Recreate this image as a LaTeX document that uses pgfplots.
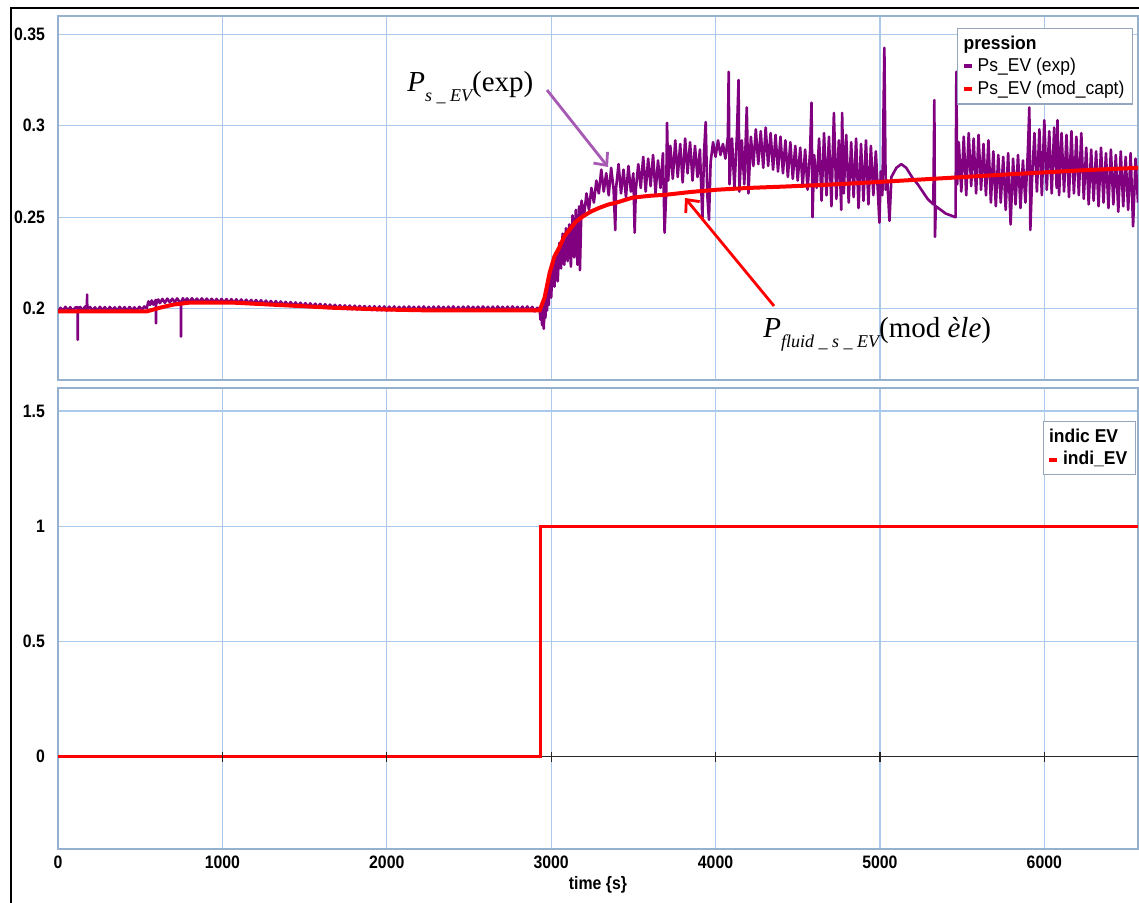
\documentclass[border=0pt]{standalone}
\usepackage{fontspec}
\setmainfont{Liberation Sans}
\newfontfamily\narrowfont[FakeStretch=0.88]{Liberation Sans}
\newfontfamily\legfont[FakeStretch=0.94]{Liberation Sans}
\newfontfamily\timesfont{Liberation Serif}
\usepackage{pgfplots}
\pgfplotsset{compat=1.18}
\usetikzlibrary{arrows.meta}
\definecolor{gridblue}{RGB}{172,201,236}
\definecolor{axisblue}{RGB}{150,176,208}
\definecolor{legborder}{RGB}{150,165,190}
\definecolor{mpurple}{RGB}{128,0,128}
\definecolor{arrowpurple}{RGB}{166,90,180}
\definecolor{mred}{RGB}{255,0,0}
\pgfplotsset{
 common/.style={
  scale only axis, width=540pt, enlargelimits=false,
  xmin=0, xmax=6570,
  xtick={0,1000,2000,3000,4000,5000,6000},
  grid=major, major grid style={gridblue, line width=0.6pt},
  axis line style={axisblue, line width=0.8pt},
  major tick length=0pt,
  ticklabel style={font=\narrowfont\bfseries\fontsize{9}{10}\selectfont},
  yticklabel style={xshift=-3pt},
  /pgf/number format/assume math mode=true,
  /pgf/number format/fixed,
  /pgf/number format/1000 sep={},
  legend style={draw=legborder, line width=0.6pt, fill=white,
    font=\legfont\fontsize{9.3}{11}\selectfont, inner xsep=2pt, inner ysep=1.5pt,
    row sep=-1pt, cells={anchor=west}},
  legend image code/.code={\draw[#1, line width=2pt] (0pt,0pt) -- (4pt,0pt);},
 }
}
\begin{document}
\begin{tikzpicture}
\useasboundingbox (0,0) rectangle (569.5pt,451.5pt);
\fill[white] (0,0) rectangle (569.5pt,451.5pt);
\draw[black, line width=0.9pt] (5.5pt,-1pt) -- (5.5pt,447.5pt) -- (570pt,447.5pt);
% ---------- top axis
\begin{axis}[common, at={(29pt,261.5pt)}, anchor=south west, height=182pt,
  ymin=0.161, ymax=0.36, ytick={0.2,0.25,0.3,0.35}, xticklabels={},
  legend style={at={(0.9954,0.967)}, anchor=north east}]
\addlegendimage{empty legend}
\addlegendentry{\hspace*{-7pt}\bfseries pression}
\addplot[mpurple, line width=1.3pt, line join=round] table {
0 0.198
15 0.2005
30 0.1988
45 0.2010
60 0.1990
75 0.2008
90 0.1986
105 0.2006
119 0.2008
120 0.183
121 0.199
135 0.2009
150 0.1990
165 0.2012
176 0.1988
177 0.2077
178 0.1995
195 0.2009
210 0.1990
225 0.2007
240 0.1988
255 0.2010
270 0.1991
285 0.2008
300 0.1989
315 0.2009
330 0.1991
345 0.2007
360 0.1988
375 0.2010
390 0.1990
405 0.2008
420 0.1989
435 0.2009
450 0.1991
465 0.2007
480 0.1989
495 0.2010
510 0.1993
525 0.2012
540 0.2002
550 0.2040
560 0.2020
570 0.2045
580 0.2022
595 0.2048
596 0.192
597 0.2025
610 0.2050
620 0.2030
635 0.2053
650 0.2032
665 0.2055
680 0.2034
695 0.2054
710 0.2035
725 0.2056
740 0.2036
747 0.2038
748 0.1847
749 0.2036
760 0.2057
770 0.2037
785 0.2056
800 0.2036
815 0.2057
830 0.2037
845 0.2055
860 0.2036
875 0.2056
890 0.2035
905 0.2055
920 0.2034
935 0.2054
950 0.2034
965 0.2053
980 0.2033
995 0.2053
1010 0.2033
1025 0.2052
1040 0.2032
1055 0.2052
1070 0.2031
1085 0.2051
1100 0.2030
1115 0.2050
1130 0.2029
1145 0.2049
1160 0.2028
1175 0.2048
1190 0.2027
1205 0.2047
1220 0.2026
1235 0.2046
1250 0.2024
1265 0.2044
1280 0.2022
1295 0.2042
1310 0.2021
1325 0.2041
1340 0.2019
1355 0.2039
1370 0.2018
1385 0.2037
1400 0.2016
1415 0.2036
1430 0.2015
1445 0.2034
1460 0.2013
1475 0.2032
1490 0.2011
1505 0.2030
1520 0.2009
1535 0.2029
1550 0.2008
1565 0.2027
1580 0.2006
1595 0.2026
1610 0.2005
1625 0.2024
1640 0.2003
1655 0.2022
1670 0.2002
1685 0.2021
1700 0.2000
1715 0.2019
1730 0.1999
1745 0.2018
1760 0.1997
1775 0.2017
1790 0.1996
1805 0.2016
1820 0.1995
1835 0.2015
1850 0.1994
1865 0.2014
1880 0.1993
1895 0.2013
1910 0.1992
1925 0.2013
1940 0.1991
1955 0.2012
1970 0.1991
1985 0.2012
2000 0.1990
2015 0.2011
2030 0.1991
2045 0.2012
2060 0.1990
2075 0.2010
2090 0.1991
2105 0.2011
2120 0.1990
2135 0.2012
2150 0.1991
2165 0.2010
2180 0.1989
2195 0.2011
2210 0.1990
2225 0.2012
2240 0.1991
2255 0.2010
2270 0.1990
2285 0.2011
2300 0.1989
2315 0.2012
2330 0.1991
2345 0.2010
2360 0.1990
2375 0.2011
2390 0.1991
2405 0.2012
2420 0.1990
2435 0.2010
2450 0.1989
2465 0.2011
2480 0.1990
2495 0.2012
2510 0.1991
2525 0.2010
2540 0.1990
2555 0.2011
2570 0.1989
2585 0.2012
2600 0.1991
2615 0.2010
2630 0.1990
2645 0.2011
2660 0.1989
2675 0.2012
2690 0.1991
2705 0.2010
2720 0.1990
2735 0.2011
2750 0.1989
2765 0.2012
2780 0.1991
2795 0.2010
2810 0.1990
2825 0.2011
2840 0.1989
2855 0.2012
2870 0.1990
2885 0.2010
2900 0.1985
2915 0.2005
2930 0.200
2935 0.194
2940 0.199
2945 0.191
2950 0.201
2955 0.189
2960 0.204
2965 0.195
2970 0.209
2975 0.199
2980 0.214
2985 0.202
2990 0.219
3000 0.206
3010 0.226
3020 0.212
3030 0.231
3040 0.215
3050 0.236
3060 0.222
3070 0.241
3080 0.224
3090 0.244
3100 0.226
3110 0.246
3120 0.223
3130 0.251
3140 0.228
3150 0.254
3160 0.224
3170 0.256
3175 0.221
3185 0.259
3200 0.251
3215 0.263
3230 0.254
3245 0.266
3260 0.258
3275 0.270
3290 0.263
3305 0.276
3320 0.264
3335 0.274
3350 0.262
3365 0.277
3380 0.265
3390 0.243
3395 0.266
3410 0.279
3425 0.263
3440 0.276
3455 0.261
3470 0.278
3485 0.264
3500 0.274
3508 0.2415
3515 0.265
3530 0.279
3545 0.266
3560 0.283
3575 0.264
3590 0.282
3605 0.267
3620 0.284
3635 0.263
3650 0.281
3665 0.266
3680 0.285
3690 0.2415
3700 0.264
3705 0.3016
3712 0.270
3725 0.289
3740 0.271
3755 0.292
3770 0.272
3785 0.290
3800 0.269
3815 0.293
3830 0.274
3845 0.291
3860 0.270
3875 0.289
3890 0.272
3905 0.287
3920 0.2486
3930 0.285
3940 0.302
3950 0.262
3960 0.2486
3970 0.280
3985 0.291
4000 0.283
4015 0.292
4030 0.284
4045 0.290
4060 0.282
4075 0.294
4080 0.3295
4085 0.268
4100 0.293
4115 0.266
4130 0.295
4140 0.325
4145 0.264
4160 0.292
4175 0.268
4190 0.310
4200 0.263
4215 0.294
4230 0.278
4245 0.298
4260 0.279
4275 0.297
4290 0.277
4305 0.299
4320 0.278
4335 0.296
4350 0.276
4365 0.295
4380 0.275
4395 0.294
4410 0.274
4425 0.292
4440 0.272
4455 0.291
4470 0.271
4485 0.289
4500 0.270
4515 0.288
4530 0.267
4545 0.287
4560 0.265
4575 0.286
4584 0.3126
4590 0.250
4600 0.284
4615 0.266
4630 0.293
4645 0.259
4660 0.296
4675 0.262
4690 0.294
4705 0.256
4720 0.307
4735 0.260
4750 0.292
4765 0.254
4770 0.307
4780 0.263
4795 0.295
4810 0.258
4825 0.291
4840 0.261
4855 0.293
4870 0.255
4885 0.290
4900 0.259
4915 0.292
4930 0.257
4945 0.289
4960 0.262
4975 0.286
4997 0.247
5005 0.275
5015 0.262
5027 0.3426
5035 0.265
5045 0.270
5058 0.248
5070 0.272
5100 0.277
5130 0.279
5160 0.277
5198 0.2715
5230 0.268
5260 0.264
5290 0.260
5325 0.257
5331 0.314
5335 0.2393
5340 0.256
5370 0.254
5400 0.252
5430 0.251
5460 0.250
5465 0.3295
5470 0.268
5480 0.291
5495 0.264
5510 0.294
5525 0.262
5540 0.296
5555 0.267
5570 0.293
5585 0.263
5600 0.295
5615 0.265
5630 0.290
5645 0.262
5660 0.292
5675 0.258
5690 0.286
5705 0.256
5720 0.284
5735 0.258
5750 0.283
5765 0.254
5780 0.285
5795 0.246
5810 0.282
5825 0.257
5840 0.284
5855 0.255
5870 0.281
5885 0.258
5900 0.286
5909 0.310
5915 0.243
5925 0.270
5940 0.296
5955 0.264
5970 0.298
5985 0.262
6000 0.303
6015 0.265
6030 0.297
6045 0.263
6060 0.299
6075 0.266
6080 0.303
6090 0.262
6105 0.296
6120 0.264
6135 0.295
6150 0.261
6165 0.297
6180 0.263
6195 0.294
6210 0.262
6225 0.296
6240 0.260
6255 0.288
6270 0.257
6285 0.287
6300 0.259
6315 0.286
6330 0.256
6345 0.288
6360 0.258
6375 0.285
6390 0.255
6405 0.287
6420 0.257
6435 0.284
6450 0.253
6465 0.286
6480 0.256
6495 0.283
6510 0.254
6525 0.285
6540 0.245
6555 0.282
6570 0.258
};
\addlegendentry{Ps\_EV (exp)}
\addplot[mred, line width=2pt] table {
0 0.1985
300 0.1985
540 0.1985
620 0.2005
700 0.2022
800 0.2033
1064 0.2033
1300 0.2022
1672 0.2005
2000 0.1995
2280 0.199
2930 0.199
2960 0.206
2991 0.2197
3020 0.2285
3052 0.2339
3080 0.2395
3112 0.2432
3150 0.2475
3191 0.2503
3240 0.253
3295 0.2552
3350 0.257
3398 0.258
3495 0.2607
3600 0.2617
3702 0.2623
3850 0.2638
4006 0.265
4200 0.266
4407 0.2667
4693 0.2678
5000 0.2693
5441 0.2716
5800 0.2735
6200 0.2755
6571 0.277
};
\addlegendentry{Ps\_EV (mod\_capt)}
\end{axis}
% ---------- bottom axis
\begin{axis}[common, at={(29pt,27pt)}, anchor=south west, height=230.5pt,
  ymin=-0.4, ymax=1.6, ytick={0,0.5,1,1.5},
  xlabel={time \{s\}}, xlabel style={font=\narrowfont\bfseries\fontsize{9}{10}\selectfont, yshift=3pt},
  legend style={at={(0.998,0.928)}, anchor=north east, font=\legfont\bfseries\fontsize{9.3}{11}\selectfont}]
\addlegendimage{empty legend}
\addlegendentry{\hspace*{-7pt}indic EV}
\addplot[black!85, line width=0.7pt, forget plot] coordinates {(0,0) (6570,0)};
\addplot[black!85, only marks, mark=|, mark size=2.5pt, mark options={line width=0.6pt}, forget plot]
  coordinates {(1000,0) (2000,0) (3000,0) (4000,0) (5000,0) (6000,0)};
\addplot[mred, line width=1.5pt] coordinates {(0,0) (2935,0) (2935,1) (6570,1)};
\addlegendentry{indi\_EV}
\end{axis}
% ---------- annotations
\node[anchor=base west, inner sep=0, font=\timesfont\fontsize{14.5}{16}\selectfont]
  at (203.5pt,405.5pt) {\textit{P}\raisebox{-5pt}{\fontsize{9}{10}\selectfont\itshape s \_ EV}(exp)};
\node[anchor=base west, inner sep=0, font=\timesfont\fontsize{14.5}{16}\selectfont]
  at (381.5pt,282.5pt) {\textit{P}\raisebox{-5pt}{\fontsize{9}{10}\selectfont\itshape fluid \_ s \_ EV}(mod \textit{èle})};
\draw[arrowpurple, line width=1.4pt, -{Straight Barb[length=5pt, width=9pt]}] (273.5pt,406.5pt) -- (304pt,368pt);
\draw[mred, line width=1.4pt, -{Straight Barb[length=5pt, width=9pt]}] (387pt,298.5pt) -- (342.5pt,352.5pt);
\end{tikzpicture}
\end{document}
